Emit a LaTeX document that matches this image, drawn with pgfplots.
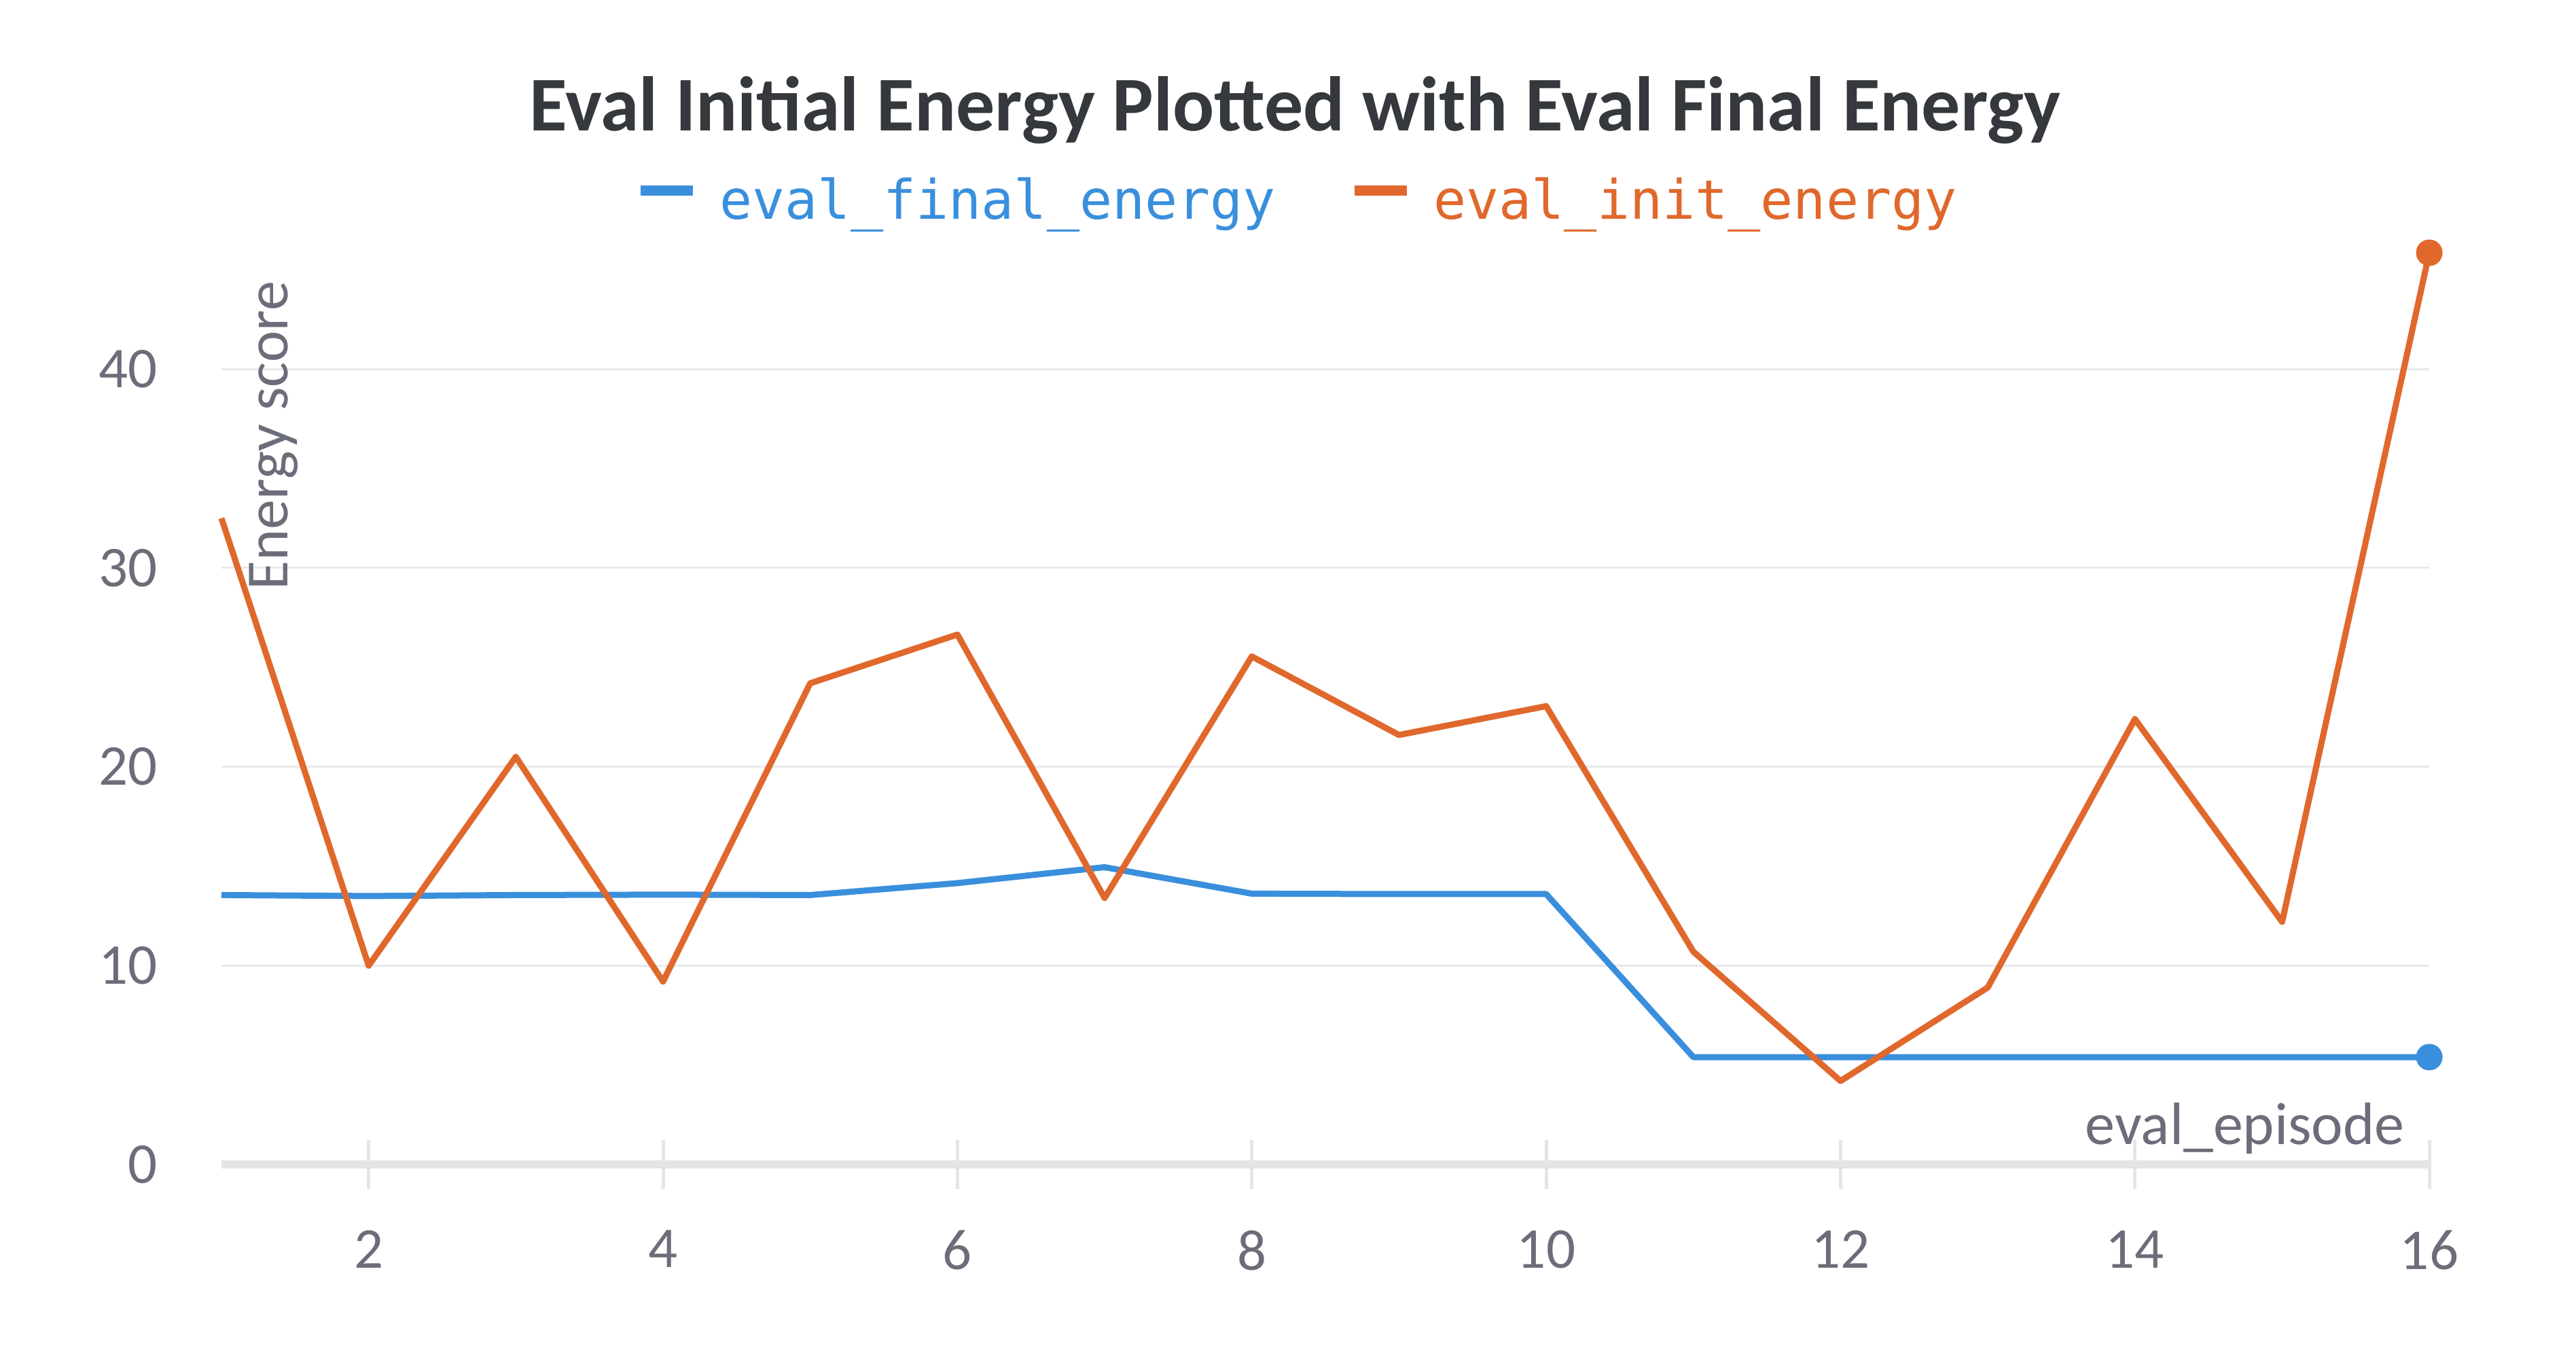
\documentclass[border=0pt]{standalone}
\usepackage{fontspec}
\setmainfont{Carlito}
\newfontfamily\monofont{DejaVu Sans Mono}
\usepackage{pgfplots}
\pgfplotsset{compat=1.18}
\definecolor{cblue}{RGB}{58,143,221}
\definecolor{corange}{RGB}{224,104,44}
\definecolor{txtgray}{RGB}{108,109,122}
\definecolor{titlecol}{RGB}{53,56,60}
\definecolor{axgray}{RGB}{229,229,231}
\definecolor{gridgray}{RGB}{233,233,235}
\begin{document}
\begin{tikzpicture}
\useasboundingbox (0,0) rectangle (379.2pt,199.2pt);
\begin{axis}[
  at={(32.6pt,27.8pt)}, anchor=south west,
  scale only axis, width=325pt, height=134.64pt,
  xmin=1, xmax=16, ymin=0, ymax=46,
  clip=false,
  axis lines=left,
  x axis line style={-, line width=1.2pt, draw=axgray},
  y axis line style={draw=none},
  xtick={2,4,...,16}, ytick={0,10,20,30,40},
  major tick length=7.2pt, tick align=center,
  xtick style={draw=axgray, line width=0.5pt},
  ytick style={draw=none},
  ymajorgrids, grid style={draw=gridgray, line width=0.3pt},
  ticklabel style={font=\fontsize{8.5}{10}\selectfont, text=txtgray},
  xticklabel style={yshift=-2.6pt},
  yticklabel style={xshift=-2.3pt},
  /pgf/number format/assume math mode=true,
  xlabel={eval\_episode},
  xlabel style={at={(axis description cs:0.98923,0.02228)}, anchor=base east, inner sep=0pt, font=\fontsize{8.8}{10}\selectfont, text=txtgray},
  ylabel={Energy score},
  ylabel style={at={(axis description cs:0.02985,0.967)}, anchor=base east, inner sep=0pt, font=\fontsize{8.8}{10}\selectfont, text=txtgray},
  legend style={at={(axis description cs:0.4868,1.021)}, anchor=south, draw=none, fill=none, inner sep=0pt,
    legend columns=2, font=\monofont\fontsize{8}{9}\selectfont, nodes={inner sep=0pt},
    /tikz/every odd column/.append style={column sep=3.2pt},
    /tikz/every even column/.append style={column sep=10.8pt}},
  legend image code/.code={\draw[line width=1.5pt] (0pt,1.9pt) -- (7.7pt,1.9pt);},
]
\addplot[cblue, line width=0.9pt, line join=round, mark=*, mark indices={16}, mark size=1.5pt, mark options={fill=cblue, draw=cblue}] coordinates {
(1,13.55) (2,13.5) (3,13.55) (4,13.57) (5,13.55) (6,14.15) (7,14.95) (8,13.62)
(9,13.6) (10,13.6) (11,5.4) (12,5.4) (13,5.4) (14,5.4) (15,5.4) (16,5.4)};
\addlegendentry{\textcolor{cblue}{eval\_final\_energy}}
\addplot[corange, line width=0.9pt, line join=round, mark=*, mark indices={16}, mark size=1.5pt, mark options={fill=corange, draw=corange}] coordinates {
(1,32.5) (2,10.0) (3,20.5) (4,9.2) (5,24.2) (6,26.65) (7,13.4) (8,25.55)
(9,21.6) (10,23.05) (11,10.7) (12,4.2) (13,8.9) (14,22.4) (15,12.2) (16,45.85)};
\addlegendentry{\textcolor{corange}{eval\_init\_energy}}
\end{axis}
\node[anchor=base, font=\fontsize{11.4}{12}\selectfont\bfseries, text=titlecol] at (190.6pt,180pt) {Eval Initial Energy Plotted with Eval Final Energy};
\end{tikzpicture}
\end{document}
